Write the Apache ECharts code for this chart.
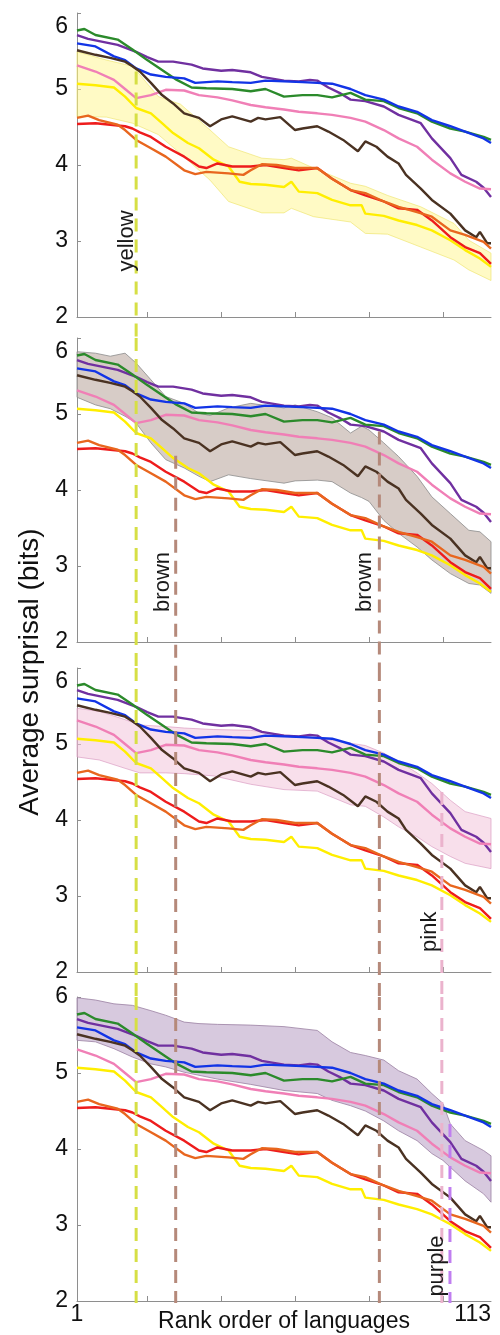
<!DOCTYPE html>
<html><head><meta charset="utf-8">
<script src="https://cdn.jsdelivr.net/npm/echarts@6/dist/echarts.min.js"></script>
<style>html,body{margin:0;padding:0;background:#fff}#c{width:500px;height:1335px}</style>
</head><body><div id="c"></div>
<script>
// ---------- data ----------
const rankMin = 1, rankMax = 113;
const xTickValues = [20, 40, 60, 80, 100];
const xTickLabels = [1, 113];
const yMin = 2, yMax = 6;
const xAxisTitle = 'Rank order of languages';
const yAxisTitle = 'Average surprisal (bits)';

const purple = [[1,5.71],[4,5.66],[7,5.63],[12,5.58],[17,5.49],[20,5.42],[23,5.36],[27,5.36],[32,5.32],[35,5.27],[40,5.24],[43,5.25],[48,5.22],[51,5.16],[57,5.11],[61,5.10],[64,5.12],[66,5.11],[69,5.02],[72,4.95],[75,4.86],[79,4.84],[84,4.77],[88,4.66],[94,4.55],[97,4.35],[102,4.09],[105,3.87],[109,3.78],[111,3.70],[113,3.58]];
const green = [[1,5.77],[3,5.79],[6,5.71],[12,5.65],[16,5.52],[20,5.38],[24,5.25],[28,5.12],[32,5.02],[36,5.01],[43,5.00],[48,4.97],[52,5.00],[57,4.90],[62,4.92],[66,4.92],[70,4.89],[75,4.95],[79,4.86],[84,4.84],[88,4.75],[93,4.68],[97,4.57],[102,4.48],[106,4.44],[111,4.37],[113,4.33]];
const blue = [[1,5.60],[6,5.56],[11,5.43],[14,5.38],[17,5.27],[21,5.19],[25,5.16],[30,5.14],[33,5.08],[39,5.10],[43,5.09],[48,5.08],[52,5.11],[57,5.10],[62,5.09],[66,5.08],[70,5.07],[75,5.00],[79,4.92],[84,4.86],[88,4.77],[93,4.70],[97,4.59],[102,4.51],[106,4.44],[111,4.35],[113,4.29]];
const pink = [[1,5.31],[6,5.23],[11,5.12],[14,5.00],[17,4.88],[21,4.92],[25,4.99],[30,4.98],[34,4.92],[39,4.89],[43,4.85],[48,4.79],[52,4.76],[57,4.73],[61,4.70],[66,4.68],[70,4.66],[75,4.62],[79,4.57],[84,4.46],[88,4.35],[93,4.24],[97,4.07],[102,3.89],[106,3.78],[110,3.69],[113,3.68]];
const brown = [[1,5.51],[6,5.45],[10,5.41],[14,5.36],[16,5.30],[18,5.23],[21,5.08],[24,4.92],[27,4.81],[30,4.68],[34,4.62],[37,4.51],[40,4.60],[43,4.64],[48,4.57],[50,4.62],[52,4.60],[56,4.63],[60,4.46],[62,4.48],[66,4.51],[69,4.44],[73,4.33],[77,4.18],[79,4.31],[82,4.24],[85,4.11],[88,4.02],[90,3.87],[94,3.69],[97,3.54],[102,3.36],[106,3.14],[109,3.05],[110,3.12],[112,2.97],[113,2.97]];
const yellow = [[1,5.07],[6,5.05],[11,5.02],[14,4.90],[17,4.75],[21,4.68],[24,4.55],[27,4.42],[31,4.29],[34,4.22],[38,4.07],[42,3.98],[45,3.78],[48,3.75],[52,3.74],[57,3.71],[59,3.78],[61,3.65],[66,3.63],[70,3.54],[75,3.47],[78,3.47],[79,3.36],[84,3.33],[88,3.27],[93,3.21],[97,3.14],[102,3.01],[106,2.88],[110,2.77],[113,2.66]];
const red = [[1,4.54],[6,4.55],[10,4.53],[14,4.51],[16,4.48],[18,4.43],[21,4.37],[25,4.24],[30,4.11],[34,3.98],[36,3.96],[39,4.02],[43,3.98],[48,3.98],[52,4.00],[57,3.96],[61,3.93],[66,3.96],[70,3.82],[75,3.67],[79,3.60],[84,3.52],[88,3.43],[93,3.41],[97,3.27],[102,3.05],[106,2.92],[110,2.84],[113,2.70]];
const orange = [[1,4.62],[4,4.65],[7,4.59],[12,4.53],[14,4.46],[17,4.33],[21,4.22],[25,4.11],[30,3.93],[33,3.88],[36,3.91],[42,3.89],[46,3.87],[48,3.93],[51,4.01],[55,4.00],[60,3.96],[66,3.96],[70,3.82],[75,3.67],[79,3.63],[84,3.52],[88,3.45],[93,3.38],[97,3.32],[102,3.14],[106,3.08],[111,2.99],[113,2.90]];

const yellowBandRanks = [1,9,16,23,29,37,42,51,57,59,65,75,79,85,94,103,107,113];
const yellowBandUpper = [5.49,5.38,5.30,4.90,4.80,4.46,4.24,4.09,4.07,4.09,3.96,3.76,3.72,3.60,3.45,3.23,3.01,2.84];
const yellowBandLower = [4.64,4.63,4.55,4.40,4.15,3.80,3.52,3.37,3.37,3.43,3.32,3.25,3.10,3.09,2.92,2.75,2.62,2.48];

const brownBandRanks = [1,6,10,14,17,21,25,30,34,37,42,48,57,60,66,70,75,78,80,84,88,93,97,102,107,110,113];
const brownBandUpper = [5.82,5.80,5.76,5.80,5.67,5.45,5.23,5.14,5.01,4.98,5.08,5.14,5.08,5.12,5.03,4.95,4.75,4.84,4.79,4.62,4.44,4.18,3.91,3.69,3.47,3.45,3.32];
const brownBandLower = [5.22,5.12,5.07,4.97,4.88,4.62,4.40,4.29,4.18,4.11,4.20,4.15,4.09,4.12,4.13,4.11,3.96,3.90,3.85,3.60,3.43,3.25,3.08,2.90,2.77,2.75,2.64];

const pinkBandRanks = [1,7,14,18,25,30,38,48,57,66,75,79,84,88,93,97,102,106,113];
const pinkBandUpper = [5.47,5.43,5.32,5.25,5.23,5.21,5.19,5.18,5.12,5.08,5.01,4.98,4.88,4.77,4.62,4.48,4.26,4.11,4.02];
const pinkBandLower = [4.83,4.79,4.68,4.62,4.62,4.61,4.58,4.47,4.40,4.38,4.20,4.18,4.04,3.91,3.78,3.65,3.52,3.43,3.36];

const purpleBandRanks = [1,6,11,16,21,25,30,34,39,48,57,66,70,75,79,84,88,93,97,100,102,106,111,113];
const purpleBandUpper = [5.99,5.96,5.91,5.89,5.82,5.76,5.67,5.65,5.64,5.63,5.61,5.56,5.41,5.27,5.23,5.17,5.03,4.92,4.73,4.60,4.33,4.11,3.98,3.91];
const purpleBandLower = [5.43,5.41,5.32,5.21,5.12,5.08,5.01,4.97,4.92,4.85,4.77,4.73,4.64,4.57,4.50,4.37,4.24,4.11,3.94,3.85,3.76,3.58,3.41,3.30];

// vertical guide lines: rank, panel where it starts, value where it starts
const guideNames = ['yellow','brown','brown','pink','purple'];
const guideRanks = [17, 27.7, 82.8, 99.7, 101.9];
const guideStartPanel = [0, 1, 1, 2, 3];
const guideStartValue = [5.23, 4.45, 4.77, 4.37, 4.33];
const guideLabelRank = [14.4, 24.3, 78.9, 96.5, 98.3];
const guideLabelValue = [3.0, 2.79, 2.79, 2.53, 2.46];

// ---------- styles ----------
const lineDefs = [
  {name:'purple', data:purple, color:'#7030a0'},
  {name:'green', data:green, color:'#2b8a2b'},
  {name:'blue', data:blue, color:'#1234e6'},
  {name:'pink', data:pink, color:'#f07fb6'},
  {name:'brown', data:brown, color:'#4a3222'},
  {name:'yellow', data:yellow, color:'#ffee00'},
  {name:'red', data:red, color:'#ee1c1c'},
  {name:'orange', data:orange, color:'#e8661e'}
];
const bands = [
  {ranks:yellowBandRanks, upper:yellowBandUpper, lower:yellowBandLower, fill:'rgba(255,246,140,0.5)', stroke:'rgba(235,225,90,0.7)'},
  {ranks:brownBandRanks, upper:brownBandUpper, lower:brownBandLower, fill:'rgba(196,180,172,0.68)', stroke:'#8c8c8c'},
  {ranks:pinkBandRanks, upper:pinkBandUpper, lower:pinkBandLower, fill:'rgba(242,196,218,0.55)', stroke:'rgba(215,150,190,0.8)'},
  {ranks:purpleBandRanks, upper:purpleBandUpper, lower:purpleBandLower, fill:'rgba(196,176,206,0.68)', stroke:'#9a80a2'}
];
const guideColors = {yellow:'#d6df45', brown:'#b5897a', pink:'#ebb3cd', purple:'#c07ef0'};

const FONT = '"Liberation Sans", Arial, sans-serif';
const GRID_TOPS = [13, 338, 668, 997];
const GRID_H = 304, LEFT = 77, RIGHT = 9;
const unitPx = GRID_H / (yMax - yMin);
const AXIS_COLOR = '#8e8e8e';
const TICK_FONT = 23;

function gapBelow(p) {
  if (p < GRID_TOPS.length - 1) return (GRID_TOPS[p + 1] - (GRID_TOPS[p] + GRID_H)) / unitPx;
  return 2 / unitPx;
}

const grid = [], xAxis = [], yAxis = [], series = [];
GRID_TOPS.forEach((top, p) => {
  const last = p === GRID_TOPS.length - 1;
  grid.push({left: LEFT, right: RIGHT, top: top, height: GRID_H});
  xAxis.push({
    type: 'value', gridIndex: p, min: rankMin, max: rankMax,
    axisLine: {show: true, onZero: false, lineStyle: {color: AXIS_COLOR, width: 1}},
    axisTick: {show: true, inside: true, length: 5, customValues: xTickValues, lineStyle: {color: AXIS_COLOR}},
    splitLine: {show: false},
    axisLabel: {show: last, customValues: xTickLabels, fontSize: TICK_FONT, fontFamily: FONT, color: '#111', margin: 2,
      alignMaxLabel: 'right'},
    name: last ? xAxisTitle : '', nameLocation: 'middle', nameGap: 9, nameMoveOverlap: false,
    nameTextStyle: {fontSize: 23, fontFamily: FONT, color: '#111'}
  });
  yAxis.push({
    type: 'value', gridIndex: p, min: yMin, max: yMax, interval: 1,
    axisLine: {show: true, lineStyle: {color: AXIS_COLOR, width: 1}},
    axisTick: {show: true, inside: true, length: 4, lineStyle: {color: AXIS_COLOR}},
    splitLine: {show: false},
    axisLabel: {
      fontSize: TICK_FONT, fontFamily: FONT, color: '#111', margin: 9,
      formatter: v => (v === yMax && !last) ? '{low|' + v + '}' : '{n|' + v + '}',
      rich: {
        n: {fontSize: TICK_FONT, fontFamily: FONT, color: '#111'},
        low: {fontSize: TICK_FONT, fontFamily: FONT, color: '#111', padding: [28, 0, 0, 0]}
      }
    }
  });
  const band = bands[p];
  series.push({
    type: 'custom', xAxisIndex: p, yAxisIndex: p, z: 1, silent: true,
    data: band.ranks.map((r, i) => [r, band.lower[i], band.upper[i]]),
    encode: {x: 0, y: [1, 2]},
    renderItem: (params, api) => {
      if (params.dataIndex !== 0) return null;
      const up = band.ranks.map((r, i) => api.coord([r, band.upper[i]]));
      const lo = band.ranks.map((r, i) => api.coord([r, band.lower[i]])).reverse();
      return {type: 'polygon', shape: {points: up.concat(lo)},
        style: {fill: band.fill, stroke: band.stroke, lineWidth: 0.8}};
    }
  });
  lineDefs.forEach(d => series.push({
    type: 'line', name: d.name, xAxisIndex: p, yAxisIndex: p, z: 2, data: d.data,
    showSymbol: false, symbol: 'none', silent: true, animation: false,
    lineStyle: {color: d.color, width: 2.4}
  }));
  guideRanks.forEach((rank, g) => {
    if (guideStartPanel[g] > p) return;
    const startV = guideStartPanel[g] === p ? guideStartValue[g] : yMax;
    series.push({
      type: 'line', xAxisIndex: p, yAxisIndex: p, z: 4, clip: false, silent: true,
      showSymbol: false, symbol: 'none', animation: false,
      data: [[rank, startV], [rank, yMin - gapBelow(p)]],
      lineStyle: {color: guideColors[guideNames[g]], width: 3, type: [13, 8]}
    });
  });
});

const chart = echarts.init(document.getElementById('c'));
chart.setOption({animation: false, backgroundColor: '#fff', grid, xAxis, yAxis, series});

const graphic = guideNames.map((name, g) => {
  const pt = chart.convertToPixel({gridIndex: guideStartPanel[g]}, [guideLabelRank[g], guideLabelValue[g]]);
  return {type: 'text', x: pt[0], y: pt[1], rotation: Math.PI / 2, z: 10,
    style: {text: name, fontSize: 22, fontFamily: FONT, fill: '#1a1a1a', textAlign: 'center', textVerticalAlign: 'middle'}};
});
graphic.push({type: 'text', x: 30, y: 672, rotation: Math.PI / 2, z: 10,
  style: {text: yAxisTitle, fontSize: 28, fontFamily: FONT, fill: '#111', textAlign: 'center', textVerticalAlign: 'middle'}});
chart.setOption({graphic});
</script></body></html>
